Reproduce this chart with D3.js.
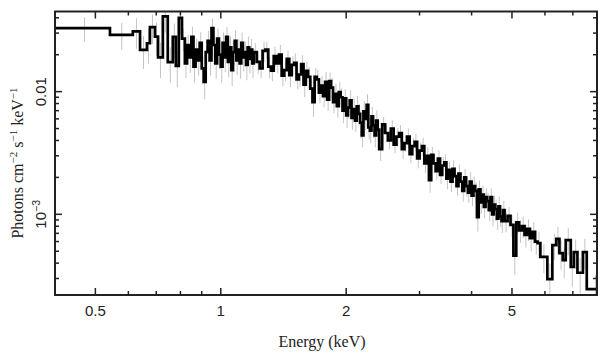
<!DOCTYPE html>
<html><head><meta charset="utf-8">
<script src="https://cdn.jsdelivr.net/npm/d3@7"></script>
<style>body{margin:0;background:#fff}svg{display:block}</style>
</head><body><svg id="c" width="609" height="357"></svg>
<script>
// Energy bin edges (keV)
const binEdges = [
  0.40,0.542,0.615,0.640,0.665,0.676,0.695,0.707,0.726,0.746,0.767,0.780,0.793,0.807,
  0.82,0.83,0.84,0.85,0.86,0.87,0.88,0.89,0.90,0.91,0.92,0.93,0.94,0.95,0.96,0.97,0.98,0.99,1.00,
  1.01,1.02,1.03,1.04,1.05,1.06,1.07,1.08,1.09,1.10,1.11,1.12,1.13,1.14,1.15,1.16,1.17,1.18,1.19,1.20,
  1.22,1.24,1.26,1.28,1.30,1.32,1.34,1.36,1.38,1.40,1.42,1.44,1.46,1.48,1.50,1.52,1.54,1.56,1.58,1.60,
  1.62,1.64,1.66,1.68,1.70,1.72,1.74,1.76,1.78,1.80,1.82,1.84,1.86,1.88,1.90,1.92,1.94,1.96,1.98,2.00,
  2.02,2.04,2.06,2.08,2.10,2.12,2.14,2.16,2.18,2.20,2.22,2.24,2.26,2.28,2.30,2.32,2.34,2.36,2.38,2.40,
  2.44,2.48,2.52,2.56,2.60,2.64,2.68,2.72,2.76,2.80,2.84,2.88,2.92,2.96,3.00,3.04,3.08,3.12,3.16,3.20,
  3.24,3.28,3.32,3.36,3.40,3.44,3.48,3.52,3.56,3.60,3.64,3.68,3.72,3.76,3.80,3.84,3.88,3.92,3.96,4.00,
  4.04,4.08,4.12,4.16,4.20,4.24,4.28,4.32,4.36,4.40,4.44,4.48,4.52,4.56,4.60,4.64,4.68,4.72,4.76,4.80,
  4.88,4.96,5.04,5.12,5.20,5.28,5.36,5.44,5.52,5.60,5.68,5.76,
  5.85,6.08,6.25,6.39,6.50,6.62,6.73,6.92,7.04,7.18,7.40,7.56,8.3
];
// Flux per bin, units of 1e-3 photons cm^-2 s^-1 keV^-1
const fluxMilli = [
  32.9,29.0,31.0,21.9,24.8,33.5,28.1,19.0,41.0,17.4,28.0,16.2,40.0,
  27,17,24,19,28,16,22,18,25,15.5,12,21,26,18,33,24,17,27,20,16,
  25,19,28,17.5,23,15,21,26,18,22,17,25,19,21,16.5,23,18.5,22,17,
  21,17.5,15.5,21.5,22,16,14.8,19.5,17,20,13.5,15,18.5,13.6,16.5,17.2,12.6,13.8,16.8,11.4,
  14.8,13.2,10.6,8.2,13.2,12.6,9.8,11.2,9.2,12.0,8.6,12.2,10.8,8.2,9.6,7.6,9.9,9.0,7.0,8.8,
  6.4,7.4,8.5,6.1,7.2,5.8,7.6,6.6,5.6,4.4,6.9,6.0,7.8,5.1,4.8,6.3,5.3,4.4,5.8,4.9,
  3.4,5.4,4.6,4.0,5.0,3.7,4.3,4.6,3.4,3.8,4.3,3.1,3.6,3.9,2.85,3.3,3.6,2.6,3.0,1.9,
  3.05,2.6,2.25,2.85,2.1,2.5,2.65,1.95,2.3,1.85,2.35,2.05,1.7,2.15,1.85,1.55,2.0,1.7,1.5,1.85,
  1.42,1.7,1.55,0.95,1.6,1.25,1.45,1.15,1.38,1.28,1.08,1.38,1.0,1.2,1.1,0.92,1.16,0.96,0.88,1.08,
  0.88,0.97,0.82,0.46,0.86,0.74,0.8,0.68,0.76,0.64,0.72,0.6,
  0.583,0.45,0.296,0.56,0.63,0.483,0.424,0.617,0.373,0.492,0.334,0.492,0.246
];
// 1-sigma error per bin, percent of flux
const errPct = [
  23,25,28,30,32,27,30,32,26,32,28,33,27,
  21,24,22,25,21,26,23,25,22,26,28,23,21,25,19,22,25,21,24,26,
  21,24,20,25,23,26,22,21,24,22,25,21,23,22,25,22,24,22,24,
  18,20,17,19,16,20,18,19,17,20,18,19,17,20,18,19,17,20,18,21,
  18,20,19,24,18,20,18,20,19,21,19,17,20,19,21,19,21,18,21,19,
  21,19,21,20,21,19,21,20,26,20,21,19,22,20,21,19,21,20,21,20,
  20,15,16,15,17,15,17,16,17,15,17,16,17,16,17,16,17,16,18,21,
  16,17,16,17,16,17,16,18,17,18,17,18,17,18,17,18,17,18,17,19,
  18,19,18,24,18,19,18,19,18,17,19,18,20,18,20,19,20,18,20,19,
  19,18,20,30,19,21,20,21,20,22,20,22,
  24,26,34,24,25,27,29,25,31,27,32,28,30
];
const xMajorTicks = [0.5,1,2,5];
const xMajorLabels = ["0.5","1","2","5"];
const xMinorTicks = [0.6,0.7,0.8,0.9,3,4,6,7];
const yMajorTicks = [0.001,0.01];
const yMinorTicks = [3e-4,4e-4,5e-4,6e-4,7e-4,8e-4,9e-4,2e-3,3e-3,4e-3,5e-3,6e-3,7e-3,8e-3,9e-3,0.02,0.03,0.04];
const xDomain = [0.4,8.0];
const yDomain = [2.2e-4,0.045];

const L=55,R=597,T=11.5,B=295;
const svg = d3.select("#c");
const x = d3.scaleLog().domain(xDomain).range([L,R]);
const y = d3.scaleLog().domain(yDomain).range([B,T]);

svg.append("defs").append("clipPath").attr("id","clip")
  .append("rect").attr("x",L).attr("y",T).attr("width",R-L).attr("height",B-T);

const bins = fluxMilli.map((f,i)=>({lo:binEdges[i],hi:binEdges[i+1],f:f*1e-3,e:f*1e-3*errPct[i]/100}));

const g = svg.append("g").attr("clip-path","url(#clip)");
// error bars
g.selectAll("line.err").data(bins).enter().append("line")
  .attr("x1",d=>x((d.lo+d.hi)/2)).attr("x2",d=>x((d.lo+d.hi)/2))
  .attr("y1",d=>y(d.f+d.e)).attr("y2",d=>y(Math.max(d.f-d.e,1e-5)))
  .attr("stroke","#c4c4c4").attr("stroke-width",1);
// step histogram
const pts = bins.map(d=>[d.lo,d.f]);
pts.push([bins[bins.length-1].hi,bins[bins.length-1].f]);
const line = d3.line().x(d=>x(d[0])).y(d=>y(d[1])).curve(d3.curveStepAfter);
g.append("path").attr("d",line(pts)).attr("fill","none")
  .attr("stroke","#000").attr("stroke-width",2.7).attr("stroke-linejoin","miter");

// frame
const axisColor="#222";
svg.append("rect").attr("x",L).attr("y",T).attr("width",R-L).attr("height",B-T)
  .attr("fill","none").attr("stroke",axisColor).attr("stroke-width",2);

const tk = svg.append("g").attr("stroke",axisColor).attr("stroke-width",1.5);
function xt(v,len){
  tk.append("line").attr("x1",x(v)).attr("x2",x(v)).attr("y1",B).attr("y2",B-len);
  tk.append("line").attr("x1",x(v)).attr("x2",x(v)).attr("y1",T).attr("y2",T+len);
}
function yt(v,len){
  tk.append("line").attr("y1",y(v)).attr("y2",y(v)).attr("x1",L).attr("x2",L+len);
  tk.append("line").attr("y1",y(v)).attr("y2",y(v)).attr("x1",R).attr("x2",R-len);
}
xMajorTicks.forEach(v=>xt(v,7));
xMinorTicks.forEach(v=>xt(v,4));
yMajorTicks.forEach(v=>yt(v,7));
yMinorTicks.forEach(v=>yt(v,4));

// x tick labels
svg.selectAll("text.xl").data(xMajorTicks).enter().append("text")
  .attr("x",d=>x(d)).attr("y",316).attr("text-anchor","middle")
  .attr("font-family","'Liberation Sans',Arial,sans-serif").attr("font-size",15).attr("fill","#222")
  .text((d,i)=>xMajorLabels[i]);

// y tick labels (rotated)
svg.append("text").attr("transform",`translate(46,${y(0.01)}) rotate(-90)`)
  .attr("text-anchor","middle").attr("font-family","'Liberation Sans',Arial,sans-serif")
  .attr("font-size",15).attr("fill","#222").text("0.01");
const yl2 = svg.append("text").attr("transform",`translate(46,${y(0.001)}) rotate(-90)`)
  .attr("text-anchor","middle").attr("font-family","'Liberation Sans',Arial,sans-serif")
  .attr("font-size",15).attr("fill","#222");
yl2.append("tspan").text("10");
yl2.append("tspan").attr("dy",-6).attr("font-size",10.5).text("\u22123");

// axis titles
svg.append("text").attr("x",322).attr("y",347).attr("text-anchor","middle")
  .attr("font-family","'Liberation Serif','Times New Roman',serif").attr("font-size",16).attr("fill","#222")
  .text("Energy (keV)");
const yt2 = svg.append("text").attr("transform",`translate(23,163) rotate(-90)`)
  .attr("text-anchor","middle").attr("font-family","'Liberation Serif','Times New Roman',serif")
  .attr("font-size",16).attr("fill","#222");
yt2.append("tspan").text("Photons cm");
yt2.append("tspan").attr("dy",-6).attr("font-size",11).text("\u22122");
yt2.append("tspan").attr("dy",6).text(" s");
yt2.append("tspan").attr("dy",-6).attr("font-size",11).text("\u22121");
yt2.append("tspan").attr("dy",6).text(" keV");
yt2.append("tspan").attr("dy",-6).attr("font-size",11).text("\u22121");
</script></body></html>
